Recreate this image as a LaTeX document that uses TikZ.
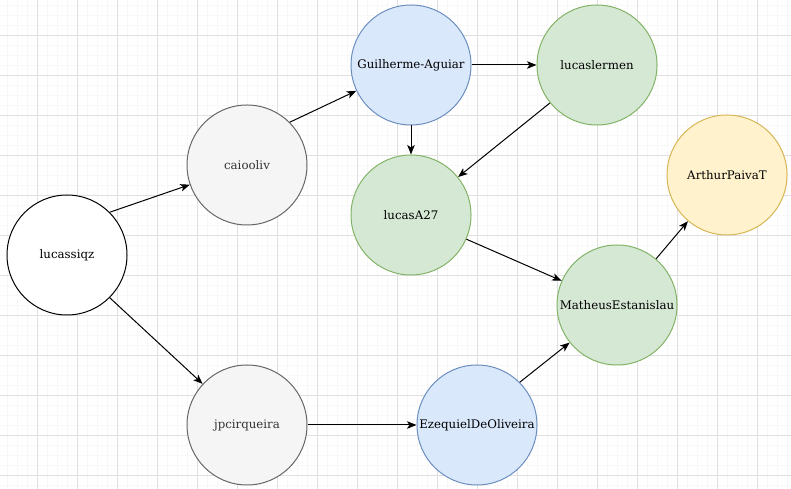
\documentclass[tikz,border=0pt]{standalone}
\usepackage{fontspec}
\setmainfont{DejaVu Serif}
\usetikzlibrary{arrows.meta}
\usetikzlibrary{positioning}

\definecolor{gridmajor}{HTML}{E0E0E0}
\definecolor{gridminor}{HTML}{F8F8F8}
\definecolor{bluefill}{HTML}{DAE8FC}
\definecolor{bluedraw}{HTML}{6C8EBF}
\definecolor{greenfill}{HTML}{D5E8D4}
\definecolor{greendraw}{HTML}{82B366}
\definecolor{yellowfill}{HTML}{FFF2CC}
\definecolor{yellowdraw}{HTML}{D6B656}
\definecolor{grayfill}{HTML}{F5F5F5}
\definecolor{graydraw}{HTML}{666666}
\definecolor{graytext}{HTML}{333333}

\begin{document}
\begin{tikzpicture}[x=1pt, y=1pt, every edge/.style={draw,solid}, node distance=180pt,
                    dev/.style={circle, draw=black, fill=white, line width=1pt, minimum size=120pt,
                                inner sep=0pt, font=\fontsize{11.8}{14}\selectfont},
                    devblue/.style={dev, draw=bluedraw, fill=bluefill},
                    devgreen/.style={dev, draw=greendraw, fill=greenfill},
                    devyellow/.style={dev, draw=yellowdraw, fill=yellowfill},
                    devgray/.style={dev, draw=graydraw, fill=grayfill, text=graytext},
                    >={Stealth[length=9.5pt,width=7.5pt,inset=2.5pt]}]

\useasboundingbox (0,0) rectangle (791,489);
\begin{scope}
\clip (0,0) rectangle (791,489);
\draw[gridminor, line width=1pt, shift={(7.5,3.5)}] (-8,-4) grid[step=10] (784,486);
\draw[gridmajor, line width=1pt, shift={(-2.5,13.5)}] (2,-14) grid[step=40] (794,476);
\end{scope}

\node[dev] (lucassiqz) at (67,234) {lucassiqz};
\node[devgray] (caiooliv) [right of=lucassiqz, yshift=90pt] {caiooliv};
\node[devgray] (jpcirqueira) [right of=lucassiqz, yshift=-170pt] {jpcirqueira};
\node[devblue] (guilherme) [right of=caiooliv, xshift=-16pt, yshift=100pt] {Guilherme-Aguiar};
\node[devgreen] (lucaslermen) [right of=guilherme, xshift=6pt] {lucaslermen};
\node[devgreen] (lucasA27) [below of=guilherme, yshift=30pt] {lucasA27};
\node[devblue] (ezequiel) [right of=jpcirqueira, xshift=50pt] {EzequielDeOliveira};
\node[devgreen] (matheus) [right of=ezequiel, xshift=-40pt, yshift=120pt] {MatheusEstanislau};
\node[devyellow] (arthur) [right of=lucasA27, xshift=136pt, yshift=40pt] {ArthurPaivaT};

\path[->, line width=1pt]
(lucassiqz.45) edge (caiooliv)
(lucassiqz.-45) edge (jpcirqueira)
(caiooliv.45) edge (guilherme)
(guilherme.east) edge (lucaslermen)
(guilherme.south) edge (lucasA27)
(lucaslermen) edge (lucasA27)
(lucasA27) edge (matheus)
(jpcirqueira.east) edge (ezequiel)
(ezequiel.45) edge (matheus)
(matheus) edge (arthur);
\end{tikzpicture}
\end{document}
